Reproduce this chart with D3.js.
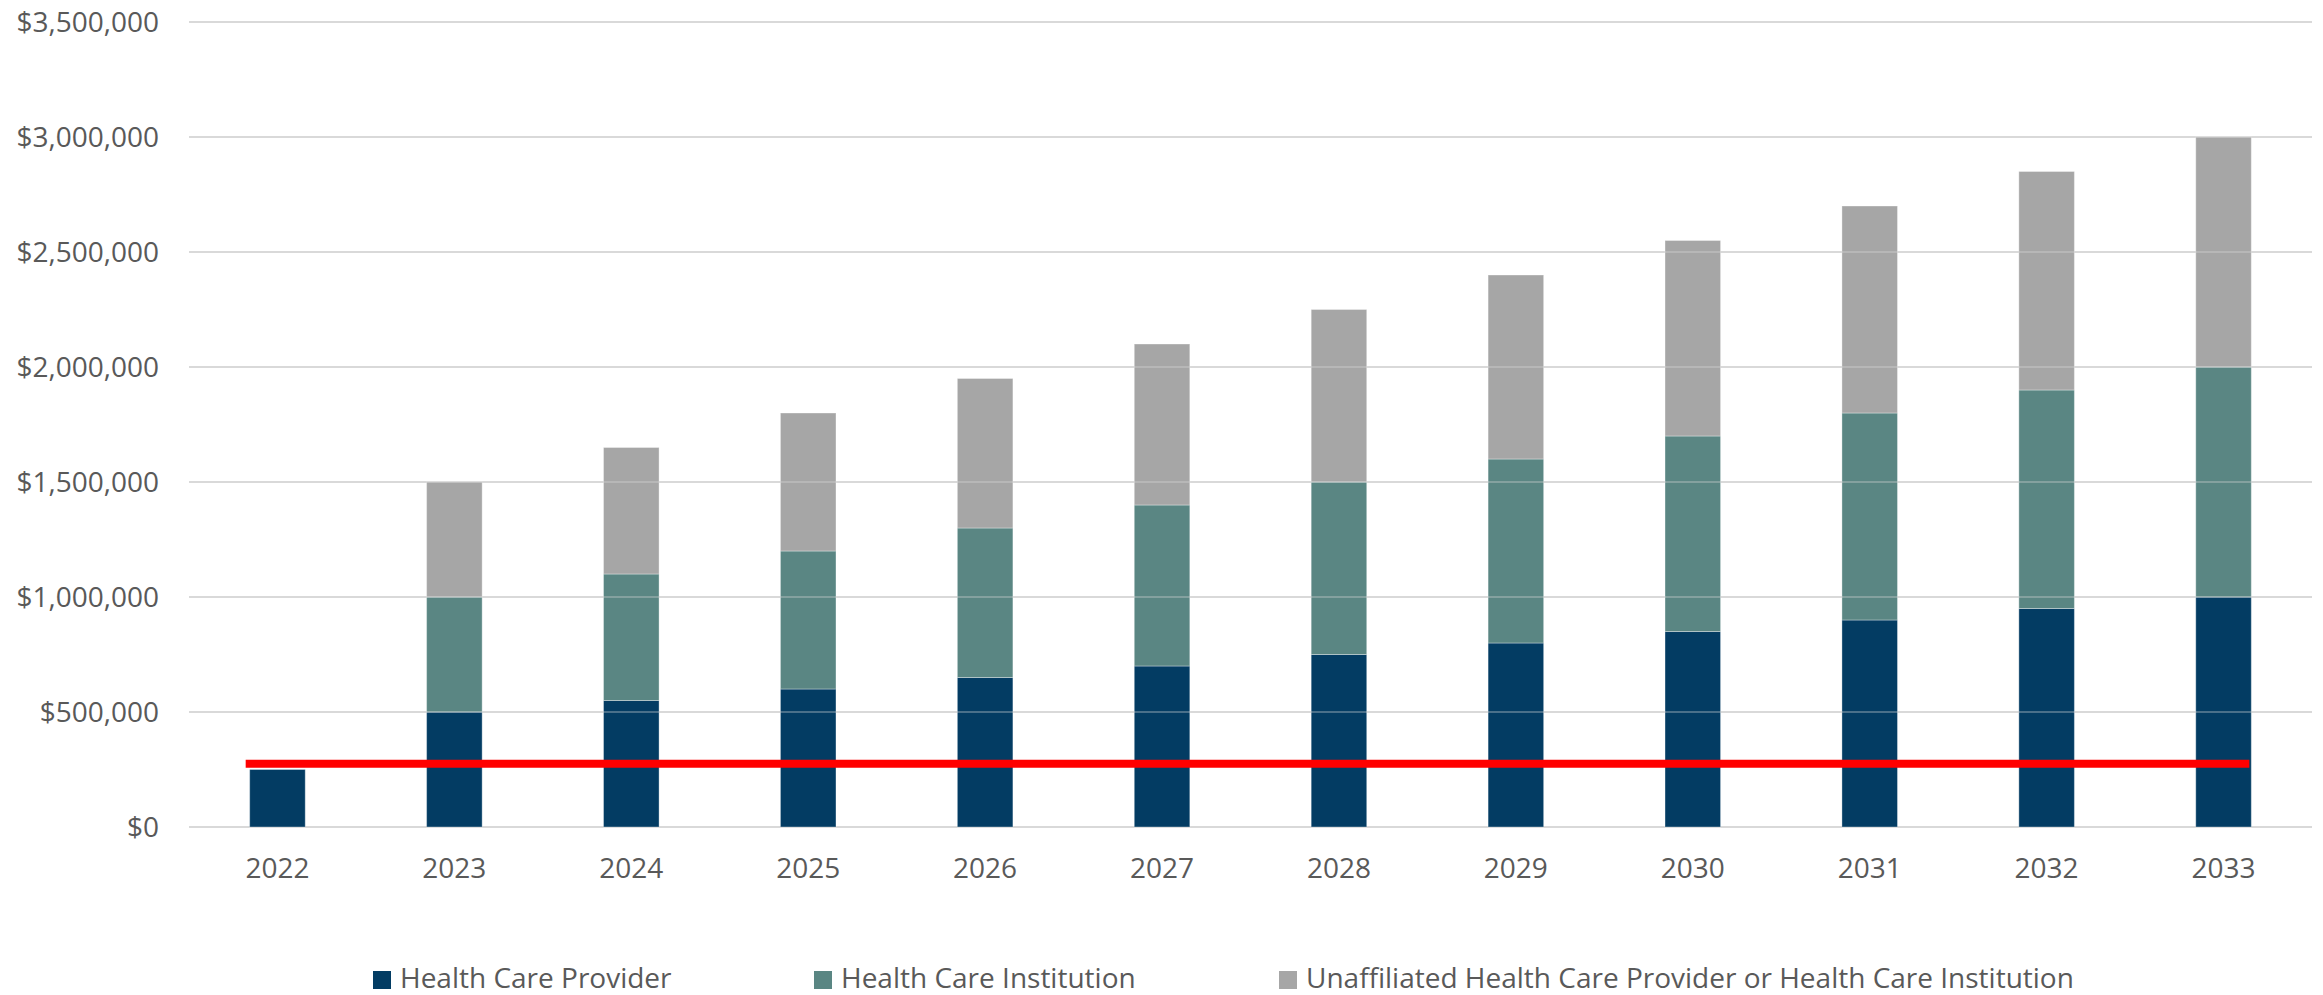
<!DOCTYPE html>
<html>
<head>
<meta charset="utf-8">
<style>
  body { margin: 0; background: #fff; }
  svg { display: block; font-family: "Open Sans", sans-serif; }
</style>
</head>
<body>
<svg width="2323" height="995"></svg>
<script src="https://d3js.org/d3.v7.min.js"></script>
<script>

var years = ["2022", "2023", "2024", "2025", "2026", "2027", "2028", "2029", "2030", "2031", "2032", "2033"];
var provider     = [250000, 500000, 550000, 600000, 650000, 700000, 750000, 800000, 850000, 900000, 950000, 1000000];
var institution  = [0, 500000, 550000, 600000, 650000, 700000, 750000, 800000, 850000, 900000, 950000, 1000000];
var unaffiliated = [0, 500000, 550000, 600000, 650000, 700000, 750000, 800000, 850000, 900000, 950000, 1000000];
var threshold = 275000;
var seriesNames = ["Health Care Provider", "Health Care Institution",
                   "Unaffiliated Health Care Provider or Health Care Institution"];
var seriesColors = ["#033c63", "#5a8683", "#a6a6a6"];
var yTicks = [0, 500000, 1000000, 1500000, 2000000, 2500000, 3000000, 3500000];

var svg = d3.select("svg");
var plotLeft = 189, plotRight = 2312, plotTop = 22, plotBottom = 827;

var rows = years.map(function(y, i) {
  return {year: y, p: provider[i], i: institution[i], u: unaffiliated[i]};
});
var stack = d3.stack().keys(["p", "i", "u"]);
var layers = stack(rows);

var x = d3.scaleBand().domain(years).range([plotLeft, plotRight])
    .paddingInner(0.686).paddingOuter(0.343);
var y = d3.scaleLinear().domain([0, 3500000]).range([plotBottom, plotTop]);
var fmt = function(v) { return "$" + d3.format(",")(v); };

// gridlines
svg.append("g").selectAll("line")
  .data(yTicks).enter().append("line")
    .attr("x1", plotLeft).attr("x2", plotRight)
    .attr("y1", function(d) { return y(d); })
    .attr("y2", function(d) { return y(d); })
    .attr("stroke", "#d9d9d9").attr("stroke-width", 2);

// y labels
svg.append("g").selectAll("text")
  .data(yTicks).enter().append("text")
    .attr("x", 159)
    .attr("y", function(d) { return y(d); })
    .attr("dy", "0.36em")
    .attr("text-anchor", "end")
    .attr("font-size", 28)
    .attr("fill", "#595959")
    .text(fmt);

// stacked bars
svg.append("g").selectAll("g")
  .data(layers).enter().append("g")
    .attr("fill", function(d, k) { return seriesColors[k]; })
  .selectAll("rect")
  .data(function(d) { return d.filter(function(s) { return s[1] - s[0] > 0; }); })
  .enter().append("rect")
    .attr("x", function(d) { return x(d.data.year); })
    .attr("y", function(d) { return y(d[1]); })
    .attr("width", x.bandwidth())
    .attr("height", function(d) { return y(d[0]) - y(d[1]); })
    .attr("stroke", "#ffffff").attr("stroke-opacity", 0.35).attr("stroke-width", 1);

// gridlines faintly showing through bars
svg.append("g").selectAll("line")
  .data(yTicks.slice(1)).enter().append("line")
    .attr("x1", plotLeft).attr("x2", plotRight)
    .attr("y1", function(d) { return y(d); })
    .attr("y2", function(d) { return y(d); })
    .attr("stroke", "#d9d9d9").attr("stroke-width", 1.5).attr("stroke-opacity", 0.45);

// threshold line
svg.append("line")
    .attr("x1", x(years[0]) - 4)
    .attr("x2", x(years[years.length - 1]) + x.bandwidth() - 2)
    .attr("y1", y(threshold)).attr("y2", y(threshold))
    .attr("stroke", "#ff0000").attr("stroke-width", 8);

// x labels
svg.append("g").selectAll("text")
  .data(years).enter().append("text")
    .attr("x", function(d) { return x(d) + x.bandwidth() / 2; })
    .attr("y", 878)
    .attr("text-anchor", "middle")
    .attr("font-size", 28)
    .attr("fill", "#595959")
    .text(function(d) { return d; });

// legend
var legendX = [373, 814, 1279];
var legend = svg.append("g").selectAll("g")
  .data(seriesNames).enter().append("g")
    .attr("transform", function(d, k) { return "translate(" + legendX[k] + ",0)"; });
legend.append("rect")
    .attr("x", 0).attr("y", 971).attr("width", 18).attr("height", 18)
    .attr("fill", function(d, k) { return seriesColors[k]; });
legend.append("text")
    .attr("x", 27).attr("y", 988)
    .attr("font-size", 28)
    .attr("fill", "#595959")
    .text(function(d) { return d; });

</script>
</body>
</html>
